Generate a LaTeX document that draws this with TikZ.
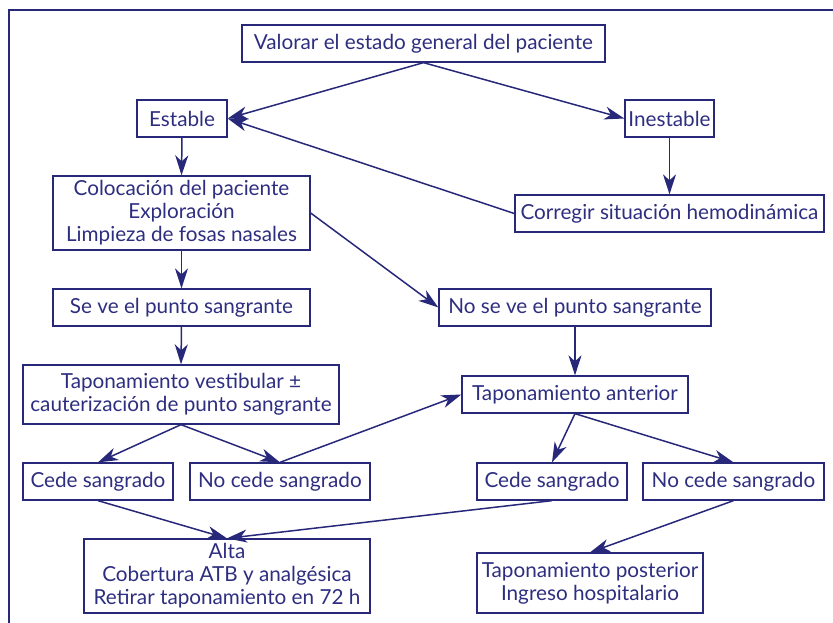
\documentclass[tikz,border=0pt]{standalone}
\usepackage{fontspec}
\setmainfont{Lato}
\usetikzlibrary{arrows.meta}
\definecolor{navy}{RGB}{40,40,122}
\definecolor{navytext}{RGB}{46,46,128}
\tikzset{
  box/.style={draw=navy, line width=1.3pt, rectangle, inner sep=0pt, align=center,
     text=navytext, font=\fontsize{20.7}{23}\selectfont},
  conn/.style={draw=navy, line width=1.5pt, -{Stealth[length=20pt,width=13pt,inset=6pt]}},
}
\begin{document}
\begin{tikzpicture}[x=1pt,y=-1pt]
\useasboundingbox (0,0) rectangle (833,623);
\draw[navy, line width=2.8pt] (9,623) -- (9,10) -- (833,10);
\node[box, minimum width=363pt, minimum height=37pt] (val) at (423.5,43.5) {Valorar el estado general del paciente};
\node[box, minimum width=90pt, minimum height=37pt] (est) at (182,118.5) {Estable};
\node[box, minimum width=89pt, minimum height=37pt] (ines) at (669.5,118.5) {Inestable};
\node[box, minimum width=257pt, minimum height=74pt] (col) at (181.5,213) {Colocación del paciente\\Exploración\\Limpieza de fosas nasales};
\node[box, minimum width=309pt, minimum height=37pt] (corr) at (669.5,213.5) {Corregir situación hemodinámica};
\node[box, minimum width=257pt, minimum height=37pt] (seve) at (181.5,307.5) {Se ve el punto sangrante};
\node[box, minimum width=272pt, minimum height=37pt] (nosev) at (575,307.5) {No se ve el punto sangrante};
\node[box, minimum width=316pt, minimum height=59pt] (tvest) at (181,394.5) {Taponamiento vestibular ±\\cauterización de punto sangrante};
\node[box, minimum width=226pt, minimum height=37pt] (tant) at (575,394.5) {Taponamiento anterior};
\node[box, minimum width=150pt, minimum height=37pt] (cedl) at (98,481.5) {Cede sangrado};
\node[box, minimum width=180pt, minimum height=37pt] (nocl) at (280,481.5) {No cede sangrado};
\node[box, minimum width=150pt, minimum height=37pt] (cedr) at (552,481.5) {Cede sangrado};
\node[box, minimum width=181pt, minimum height=37pt] (nocr) at (733.5,481.5) {No cede sangrado};
\node[box, minimum width=286pt, minimum height=74pt] (alta) at (227,576) {Alta\\Cobertura ATB y analgésica\\Retirar taponamiento en 72 h};
\node[box, minimum width=226pt, minimum height=60pt] (tpos) at (590,583) {Taponamiento posterior\\Ingreso hospitalario};
\draw[conn] (val.south) -- (est.east);
\draw[conn] (val.south) -- (ines.west);
\draw[conn] (ines.south) -- (corr.north);
\draw[conn] (corr.west) -- (est.east);
\draw[conn] (est.south) -- (col.north);
\draw[conn] (col.east) -- (nosev.west);
\draw[conn] (col.south) -- (seve.north);
\draw[conn] (seve.south) -- (tvest.north);
\draw[conn] (tvest.south) -- (cedl.north);
\draw[conn] (tvest.south) -- (nocl.north);
\draw[conn] (nocl.north) -- (tant.west);
\draw[conn] (nosev.south) -- (tant.north);
\draw[conn] (tant.south) -- (cedr.north);
\draw[conn] (tant.south) -- (nocr.north);
\draw[conn] (cedl.south) -- (alta.north);
\draw[conn] (cedr.south) -- (alta.north);
\draw[conn] (nocr.south) -- (tpos.north);
\end{tikzpicture}
\end{document}
